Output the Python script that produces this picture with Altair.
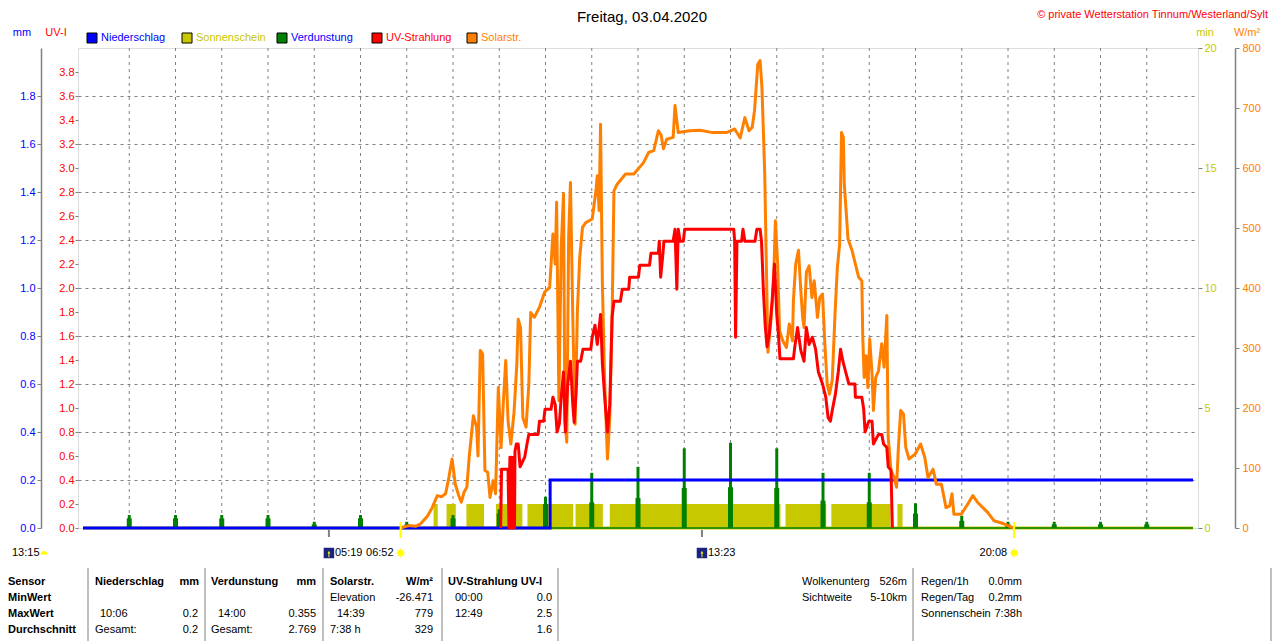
import altair as alt
import pandas as pd

FONT = "Liberation Sans"
OX, OY = 78, 48          # page position of the plot origin
W, H = 1120, 480

# ---------------- data ----------------
solar_pts = [
    (6.87, 0), (6.95, 2), (7.05, 4), (7.2, 3), (7.3, 7), (7.45, 20), (7.55, 34), (7.66, 54),
    (7.75, 52), (7.84, 57), (7.91, 84), (7.98, 115), (8.05, 73), (8.12, 55), (8.18, 43),
    (8.24, 60), (8.3, 68), (8.35, 118), (8.44, 187), (8.51, 168), (8.54, 120), (8.59, 296),
    (8.64, 290), (8.69, 96), (8.75, 93), (8.8, 51), (8.87, 79), (8.92, 57), (8.98, 234),
    (9.04, 134), (9.09, 212), (9.14, 279), (9.19, 179), (9.25, 140), (9.32, 193), (9.38, 273),
    (9.41, 348), (9.46, 334), (9.51, 184), (9.58, 168), (9.64, 240), (9.68, 359), (9.76, 351),
    (9.87, 368), (9.98, 393), (10.09, 401), (10.16, 490), (10.21, 440), (10.24, 543),
    (10.29, 212), (10.34, 468), (10.39, 557), (10.42, 179), (10.46, 143), (10.5, 484),
    (10.54, 576), (10.59, 351), (10.64, 173), (10.69, 362), (10.74, 451), (10.8, 501),
    (10.87, 509), (11.01, 515), (11.09, 562), (11.12, 587), (11.16, 529), (11.19, 673),
    (11.23, 407), (11.28, 240), (11.34, 115), (11.39, 184), (11.44, 351), (11.48, 562),
    (11.55, 573), (11.73, 590), (11.91, 590), (12.12, 609), (12.23, 626), (12.34, 629),
    (12.44, 662), (12.5, 655), (12.55, 632), (12.62, 648), (12.76, 651), (12.8, 704),
    (12.87, 659), (13.12, 662), (13.34, 663), (13.62, 659), (13.91, 659), (14.0, 662),
    (14.09, 665), (14.21, 650), (14.31, 684), (14.4, 662), (14.47, 668), (14.52, 696),
    (14.59, 773), (14.64, 779), (14.68, 734), (14.72, 640), (14.74, 590), (14.77, 462),
    (14.81, 293), (14.88, 351), (14.93, 407), (14.97, 512), (15.02, 440), (15.06, 329),
    (15.13, 312), (15.21, 301), (15.27, 340), (15.34, 312), (15.36, 379), (15.41, 440),
    (15.47, 463), (15.52, 396), (15.56, 351), (15.59, 334), (15.64, 426), (15.7, 437),
    (15.76, 384), (15.81, 412), (15.88, 351), (15.93, 384), (15.99, 390), (16.04, 307),
    (16.09, 240), (16.14, 223), (16.2, 246), (16.26, 357), (16.31, 434), (16.36, 473),
    (16.4, 659), (16.44, 651), (16.46, 573), (16.5, 529), (16.54, 482), (16.63, 462),
    (16.7, 440), (16.77, 418), (16.84, 412), (16.86, 318), (16.89, 251), (16.93, 287),
    (16.97, 234), (17.01, 315), (17.06, 257), (17.09, 196), (17.14, 251), (17.2, 262),
    (17.27, 307), (17.32, 268), (17.38, 354), (17.41, 151), (17.47, 96), (17.54, 84),
    (17.59, 68), (17.63, 134), (17.68, 196), (17.74, 190), (17.79, 134), (17.86, 115),
    (17.99, 123), (18.11, 140), (18.2, 118), (18.27, 84), (18.38, 98), (18.45, 73),
    (18.56, 73), (18.66, 34), (18.74, 37), (18.79, 57), (18.83, 23), (18.99, 23),
    (19.13, 40), (19.24, 54), (19.34, 43), (19.56, 26), (19.7, 12), (19.91, 7),
    (20.09, 1), (20.15, 0),
]
solar_t = [p[0] for p in solar_pts]
solar_w = [p[1] for p in solar_pts]

uv_pts = [
    (9.03, 0), (9.05, 0.49), (9.19, 0.49), (9.21, 0), (9.23, 0.59), (9.25, 0), (9.27, 0.59),
    (9.29, 0), (9.31, 0.59), (9.33, 0), (9.34, 0.64), (9.37, 0.7), (9.41, 0.7), (9.45, 0.51),
    (9.5, 0.55), (9.55, 0.59), (9.6, 0.7), (9.64, 0.78), (9.84, 0.78), (9.87, 0.89),
    (9.96, 0.89), (9.99, 0.99), (10.12, 0.99), (10.16, 1.09), (10.21, 1.03), (10.25, 0.8),
    (10.3, 0.87), (10.34, 1.09), (10.39, 1.3), (10.43, 0.8), (10.48, 1.2), (10.54, 1.39),
    (10.59, 1.03), (10.62, 0.88), (10.66, 1.12), (10.69, 1.39), (10.76, 1.39), (10.81, 1.49),
    (10.98, 1.49), (11.01, 1.59), (11.07, 1.69), (11.12, 1.53), (11.16, 1.67), (11.19, 1.78),
    (11.23, 1.37), (11.28, 1.09), (11.34, 0.8), (11.39, 1.03), (11.44, 1.76), (11.48, 1.89),
    (11.62, 1.89), (11.66, 1.99), (11.8, 1.99), (11.82, 2.09), (12.01, 2.09), (12.04, 2.19),
    (12.25, 2.19), (12.28, 2.29), (12.44, 2.29), (12.46, 2.39), (12.49, 2.09), (12.54, 2.29),
    (12.56, 2.39), (12.76, 2.39), (12.8, 2.49), (12.84, 1.99), (12.87, 2.49), (12.91, 2.39),
    (12.98, 2.39), (13.01, 2.49), (14.07, 2.49), (14.09, 2.39), (14.11, 1.59), (14.14, 2.39),
    (14.24, 2.39), (14.27, 2.49), (14.31, 2.39), (14.53, 2.39), (14.57, 2.49), (14.64, 2.49),
    (14.67, 2.39), (14.69, 2.2), (14.71, 1.99), (14.75, 1.69), (14.79, 1.51), (14.84, 1.62),
    (14.9, 1.89), (14.95, 2.2), (15.0, 1.78), (15.04, 1.59), (15.07, 1.41), (15.36, 1.41),
    (15.39, 1.51), (15.45, 1.67), (15.52, 1.48), (15.59, 1.39), (15.64, 1.67), (15.7, 1.53),
    (15.77, 1.59), (15.84, 1.49), (15.9, 1.3), (15.99, 1.2), (16.06, 1.09), (16.11, 0.92),
    (16.16, 0.89), (16.2, 0.98), (16.27, 1.12), (16.33, 1.3), (16.38, 1.49), (16.43, 1.39),
    (16.49, 1.3), (16.56, 1.2), (16.69, 1.2), (16.7, 1.09), (16.84, 1.09), (16.88, 0.99),
    (16.91, 0.8), (16.99, 0.89), (17.06, 0.89), (17.09, 0.7), (17.2, 0.78), (17.27, 0.78),
    (17.31, 0.7), (17.38, 0.67), (17.41, 0.51), (17.47, 0.48), (17.5, 0.0),
]
uv_t = [p[0] for p in uv_pts]
uv_v = [p[1] for p in uv_pts]

precip_t = [0, 10.1, 10.1, 24]
precip_mm = [0, 0, 0.2, 0.2]

evap_t = [1, 2, 3, 4, 5, 6, 7, 8, 9, 10, 11, 12, 13, 14, 15, 16, 17, 18, 19, 20, 21, 22, 23]
evap_peak = [0.054, 0.054, 0.054, 0.054, 0.026, 0.054, 0.026, 0.054, 0.078, 0.13, 0.23, 0.255,
             0.332, 0.355, 0.332, 0.23, 0.23, 0.103, 0.051, 0.026, 0.026, 0.026, 0.026]
evap_base = [0.04, 0.04, 0.04, 0.04, 0.015, 0.04, 0.015, 0.04, 0.06, 0.1, 0.107, 0.125,
             0.167, 0.17, 0.167, 0.114, 0.107, 0.06, 0.03, 0.015, 0.015, 0.015, 0.015]

sun_start = [7.58, 7.86, 8.29, 8.93, 9.61, 10.65, 11.39, 15.19, 16.18, 17.61]
sun_end = [7.67, 8.06, 8.67, 9.5, 10.6, 11.24, 15.08, 16.07, 17.46, 17.72]
sun_min = [1, 1, 1, 1, 1, 1, 1, 1, 1, 1]

base_t = [0, 24]
base_v = [0, 0]

hour_grid = [1, 2, 3, 4, 5, 6, 7, 8, 9, 10, 11, 12, 13, 14, 15, 16, 17, 18, 19, 20, 21, 22, 23]

moon_t = [5.317, 13.383]     # 05:19, 13:23
sun_t = [6.867, 20.133]      # 06:52, 20:08

# ---------------- colours ----------------
BLUE, YEL, GREEN, RED, ORANGE, GRAY = "#0000ff", "#c8c800", "#008000", "#ff0000", "#ff8000", "#808080"

xs = alt.Scale(domain=[0, 24], nice=False, zero=False)
mm_s = alt.Scale(domain=[0, 2], nice=False, zero=False)
uv_s = alt.Scale(domain=[0, 4], nice=False, zero=False)
min_s = alt.Scale(domain=[0, 20], nice=False, zero=False)
w_s = alt.Scale(domain=[0, 800], nice=False, zero=False)


def yaxis(orient, offset, values, color, fmt, domain=True, tick=4, pad=2):
    return alt.Axis(orient=orient, offset=offset, values=values, format=fmt, labelColor=color,
                    labelFont=FONT, labelFontSize=11, domain=domain, domainColor=GRAY,
                    domainWidth=1.5, tickColor=GRAY, tickSize=tick, tickWidth=1,
                    labelPadding=pad, grid=False, title=None, labelOverlap=False)


xaxis = alt.Axis(values=list(range(25)),
                 labelExpr="(datum.value < 10 ? '0' : '') + datum.value + ':00'",
                 grid=False, domain=False,
                 tickColor=GRAY, tickSize=4, labelFont=FONT, labelFontSize=11,
                 labelColor="black", labelPadding=3, title=None, labelFlush=False,
                 labelOverlap=False)

df_solar = pd.DataFrame({"t": solar_t, "w": solar_w})
df_uv = pd.DataFrame({"t": uv_t, "uv": uv_v})
df_pr = pd.DataFrame({"t": precip_t, "mm": precip_mm})
df_ev = pd.DataFrame({"t": evap_t, "peak": evap_peak, "base": evap_base})
df_sun = pd.DataFrame({"s": sun_start, "e": sun_end, "m": sun_min})
df_base = pd.DataFrame({"t": base_t, "v": base_v})
df_hg = pd.DataFrame({"t": hour_grid})
one = pd.DataFrame({"k": [0]})

layers = []

# horizontal grid (every 0.2 mm) + time axis
layers.append(
    alt.Chart(df_pr).mark_line(opacity=0).encode(
        x=alt.X("t:Q", scale=xs, axis=xaxis),
        y=alt.Y("mm:Q", scale=mm_s,
                axis=alt.Axis(orient="left", values=[0.2, 0.4, 0.6, 0.8, 1.0, 1.2, 1.4, 1.6, 1.8],
                              grid=True, gridDash=[3, 4], gridColor=GRAY, gridWidth=1,
                              domain=False, ticks=False, labels=False, title=None)),
    )
)
# vertical hour grid
layers.append(
    alt.Chart(df_hg).mark_rule(color=GRAY, strokeWidth=1, strokeDash=[3, 4]).encode(
        x=alt.X("t:Q", scale=xs, axis=None), y=alt.value(0), y2=alt.value(H),
    )
)

# sunshine bars (min axis)
layers.append(
    alt.Chart(df_sun).mark_rect(color=YEL).encode(
        x=alt.X("s:Q", scale=xs, axis=None), x2="e:Q",
        y=alt.Y("m:Q", scale=min_s,
                axis=yaxis("right", 0, [0, 5, 10, 15, 20], YEL, "d", domain=False, tick=4, pad=2)),
        y2=alt.datum(0),
    )
)
layers.append(
    alt.Chart(df_base).mark_line(color=YEL, strokeWidth=3).encode(
        x=alt.X("t:Q", scale=xs, axis=None),
        y=alt.Y("v:Q", scale=min_s, axis=None),
    )
)

# evaporation spikes
layers.append(
    alt.Chart(df_ev).mark_bar(color=GREEN, size=5, orient="vertical").encode(
        x=alt.X("t:Q", scale=xs, axis=None),
        y=alt.Y("base:Q", scale=mm_s, axis=None, stack=None),
    )
)
layers.append(
    alt.Chart(df_ev).mark_bar(color=GREEN, size=3, orient="vertical").encode(
        x=alt.X("t:Q", scale=xs, axis=None),
        y=alt.Y("peak:Q", scale=mm_s, axis=None, stack=None),
    )
)
layers.append(
    alt.Chart(df_base).mark_line(color=GREEN, strokeWidth=1.5).encode(
        x=alt.X("t:Q", scale=xs, axis=None),
        y=alt.Y("v:Q", scale=mm_s, axis=None),
    )
)

# precipitation (mm axis, outer left)
layers.append(
    alt.Chart(df_pr).mark_line(color=BLUE, strokeWidth=3).encode(
        x=alt.X("t:Q", scale=xs, axis=None),
        y=alt.Y("mm:Q", scale=mm_s,
                axis=yaxis("left", 37, [0, 0.2, 0.4, 0.6, 0.8, 1.0, 1.2, 1.4, 1.6, 1.8], BLUE, ".1f")),
        order=alt.Order("t:Q"),
    )
)

# solar radiation (W/m² axis, outer right)
layers.append(
    alt.Chart(df_solar).mark_line(color=ORANGE, strokeWidth=3, strokeJoin="round").encode(
        x=alt.X("t:Q", scale=xs, axis=None),
        y=alt.Y("w:Q", scale=w_s,
                axis=yaxis("right", 37, [0, 100, 200, 300, 400, 500, 600, 700, 800], ORANGE, "d",
                           tick=4, pad=3)),
    )
)

# UV (inner left)
layers.append(
    alt.Chart(df_uv).mark_line(color=RED, strokeWidth=3, strokeJoin="round").encode(
        x=alt.X("t:Q", scale=xs, axis=None),
        y=alt.Y("uv:Q", scale=uv_s,
                axis=yaxis("left", 0, [round(0.2 * i, 1) for i in range(20)], RED, ".1f",
                           domain=False, tick=3, pad=1)),
    )
)

# moon / sun event ticks and icons below the axis
df_moon = pd.DataFrame({"t": moon_t, "lab": ["05:19", "13:23"]})
df_sunev = pd.DataFrame({"t": sun_t, "lab": ["06:52", "20:08"]})
layers.append(alt.Chart(df_moon).mark_rule(color=GRAY, strokeWidth=2).encode(
    x=alt.X("t:Q", scale=xs, axis=None), y=alt.value(482), y2=alt.value(489)))
layers.append(alt.Chart(df_sunev).mark_rule(color="#ffff00", strokeWidth=2).encode(
    x=alt.X("t:Q", scale=xs, axis=None), y=alt.value(474), y2=alt.value(490)))
layers.append(alt.Chart(df_moon).mark_square(color="#1a2380", size=110, opacity=1).encode(
    x=alt.X("t:Q", scale=xs, axis=None), y=alt.value(505)))
layers.append(alt.Chart(df_moon).mark_point(shape="arrow", filled=True, color="#ffff00", size=45,
                                            opacity=1).encode(
    x=alt.X("t:Q", scale=xs, axis=None), y=alt.value(506)))
layers.append(alt.Chart(df_moon).mark_text(align="left", baseline="middle", dx=6, font=FONT,
                                           fontSize=11, color="black").encode(
    x=alt.X("t:Q", scale=xs, axis=None), y=alt.value(505), text="lab:N"))
layers.append(alt.Chart(df_sunev).mark_point(
    shape="M0,-1.6L0,1.6M-1.6,0L1.6,0M-1.15,-1.15L1.15,1.15M-1.15,1.15L1.15,-1.15",
    filled=False, color="#ffee80", size=40, strokeWidth=1, opacity=1).encode(
    x=alt.X("t:Q", scale=xs, axis=None), y=alt.value(505)))
layers.append(alt.Chart(df_sunev).mark_point(shape="circle", filled=True, color="#ffff00", size=40,
                                             opacity=1).encode(
    x=alt.X("t:Q", scale=xs, axis=None), y=alt.value(505)))
layers.append(alt.Chart(df_sunev).mark_text(align="right", baseline="middle", dx=-7, font=FONT,
                                            fontSize=11, color="black").encode(
    x=alt.X("t:Q", scale=xs, axis=None), y=alt.value(505), text="lab:N"))


def txt(s, px, py, align="left", color="black", size=11, bold=False):
    return alt.Chart(one).mark_text(text=s, align=align, baseline="middle", color=color,
                                    fontSize=size, font=FONT,
                                    fontWeight="bold" if bold else "normal").encode(
        x=alt.value(px - OX), y=alt.value(py - OY))


def vline(px, py1, py2, color=GRAY, width=1):
    return alt.Chart(one).mark_rule(color=color, strokeWidth=width).encode(
        x=alt.value(px - OX), y=alt.value(py1 - OY), y2=alt.value(py2 - OY))


# 13:15 marker at far left
layers.append(txt("13:15", 12, 553))
layers.append(alt.Chart(one).mark_point(shape="M -1 0.45 A 1 1 0 0 1 1 0.45 Z", filled=True,
                                        color="#ffff00", size=50, opacity=1).encode(
    x=alt.value(44 - OX), y=alt.value(553 - OY)))

# title, copyright, axis titles
layers.append(txt("Freitag, 03.04.2020", 642, 17, align="center", size=15))
layers.append(txt("© private Wetterstation Tinnum/Westerland/Sylt", 1268, 15, align="right",
                  color=RED, size=11))
layers.append(txt("mm", 22, 33, align="center", color=BLUE))
layers.append(txt("UV-I", 56, 33, align="center", color=RED))
layers.append(txt("min", 1205, 33, align="center", color=YEL))
layers.append(txt("W/m²", 1247, 33, align="center", color=ORANGE))

# legend
legend_items = [("Niederschlag", BLUE, BLUE), ("Sonnenschein", YEL, YEL),
                ("Verdunstung", GREEN, BLUE), ("UV-Strahlung", RED, RED),
                ("Solarstr.", ORANGE, ORANGE)]
legend_x = [92, 187, 282, 377, 472]
for (name, fill, tcol), lx in zip(legend_items, legend_x):
    layers.append(alt.Chart(one).mark_square(size=100, filled=True, color=fill, stroke="black",
                                             strokeWidth=1, opacity=1).encode(
        x=alt.value(lx - OX), y=alt.value(38 - OY)))
    layers.append(txt(name, lx + 9, 38, color=tcol))

# statistics table
table = [
    ("Sensor", 8, 582, "left", True), ("Niederschlag", 95, 582, "left", True),
    ("mm", 199, 582, "right", True), ("Verdunstung", 211, 582, "left", True),
    ("mm", 316, 582, "right", True), ("Solarstr.", 330, 582, "left", True),
    ("W/m²", 433, 582, "right", True), ("UV-Strahlung UV-I", 448, 582, "left", True),
    ("MinWert", 8, 598, "left", True), ("Elevation", 330, 598, "left", False),
    ("-26.471", 433, 598, "right", False), ("00:00", 455, 598, "left", False),
    ("0.0", 552, 598, "right", False),
    ("MaxWert", 8, 614, "left", True), ("10:06", 100, 614, "left", False),
    ("0.2", 198, 614, "right", False), ("14:00", 218, 614, "left", False),
    ("0.355", 316, 614, "right", False), ("14:39", 337, 614, "left", False),
    ("779", 433, 614, "right", False), ("12:49", 455, 614, "left", False),
    ("2.5", 552, 614, "right", False),
    ("Durchschnitt", 8, 630, "left", True), ("Gesamt:", 95, 630, "left", False),
    ("0.2", 198, 630, "right", False), ("Gesamt:", 211, 630, "left", False),
    ("2.769", 316, 630, "right", False), ("7:38 h", 330, 630, "left", False),
    ("329", 433, 630, "right", False), ("1.6", 552, 630, "right", False),
    ("Wolkenunterg", 802, 582, "left", False), ("526m", 907, 582, "right", False),
    ("Sichtweite", 802, 598, "left", False), ("5-10km", 907, 598, "right", False),
    ("Regen/1h", 921, 582, "left", False), ("0.0mm", 1022, 582, "right", False),
    ("Regen/Tag", 921, 598, "left", False), ("0.2mm", 1022, 598, "right", False),
    ("Sonnenschein", 921, 614, "left", False), ("7:38h", 1022, 614, "right", False),
]
for s, px, py, al, b in table:
    layers.append(txt(s, px, py, align=al, bold=b))
for sx in [88, 205, 323, 442, 558, 913, 1271]:
    layers.append(vline(sx, 568, 645))

chart = alt.layer(*layers).resolve_scale(y="independent").properties(
    width=W, height=H,
    padding={"left": OX - 8, "top": OY - 8, "right": 1264 - (OX - 8) - W, "bottom": 633 - (OY - 8) - H},
    autosize=alt.AutoSizeParams(type="none"),
).configure_view(stroke=GRAY, strokeWidth=3).configure(background="white")

chart.save("out.html", embed_options={"renderer": "svg", "actions": False})
